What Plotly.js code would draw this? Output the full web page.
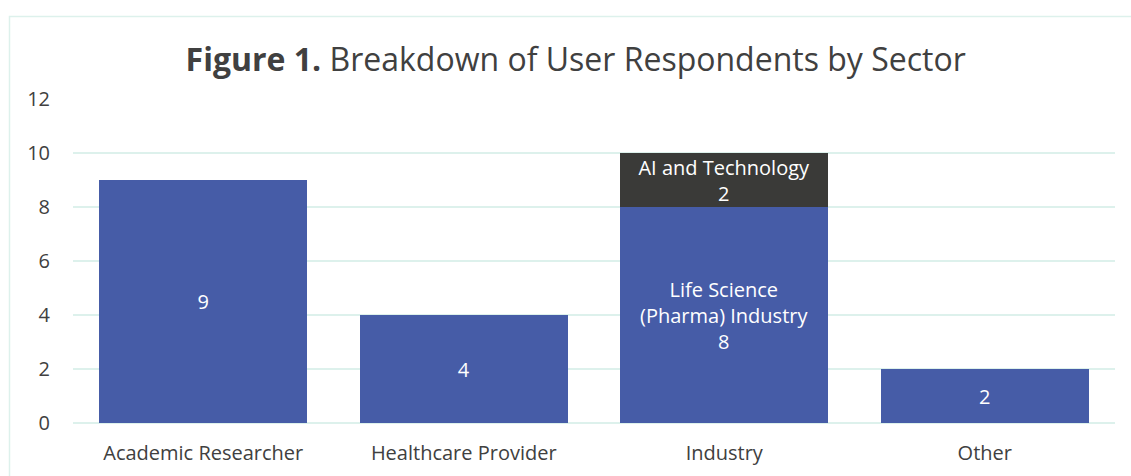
<!DOCTYPE html>
<html>
<head>
<meta charset="utf-8">
<script src="https://cdn.plot.ly/plotly-3.0.1.min.js"></script>
<style>html,body{margin:0;padding:0;background:#fff;}#chart{width:1131px;height:476px;}</style>
</head>
<body>
<div id="chart"></div>
<script>
const categories = ["Academic Researcher", "Healthcare Provider", "Industry", "Other"];
const primaryValues = [9, 4, 8, 2];
const primaryLabels = ["9", "4", "Life Science<br>(Pharma) Industry<br>8", "2"];
const techValues = [null, null, 2, null];
const techLabels = ["", "", "AI and Technology<br>2", ""];
const yTicks = [0, 2, 4, 6, 8, 10, 12];

const FONT = "Open Sans, Noto Sans, sans-serif";

const traces = [
  {
    type: "bar", x: categories, y: primaryValues, text: primaryLabels,
    textposition: "inside", insidetextanchor: "middle", textangle: 0,
    texttemplate: "%{text}", hoverinfo: "x+y",
    marker: {color: "#465ca7", line: {width: 0}},
    textfont: {family: FONT, size: 20, color: "#ffffff"},
    constraintext: "none", showlegend: false
  },
  {
    type: "bar", x: categories, y: techValues, text: techLabels,
    textposition: "inside", insidetextanchor: "middle", textangle: 0,
    texttemplate: "%{text}", hoverinfo: "x+y",
    marker: {color: "#3a3a38", line: {width: 0}},
    textfont: {family: FONT, size: 20, color: "#ffffff"},
    constraintext: "none", showlegend: false
  }
];

const layout = {
  width: 1131, height: 476,
  margin: {l: 73, r: 16, t: 99, b: 53},
  paper_bgcolor: "#ffffff", plot_bgcolor: "#ffffff",
  barmode: "stack", bargap: 0.2,
  title: {
    text: "<b>Figure 1.</b> Breakdown of User Respondents by Sector",
    font: {family: FONT, size: 32, color: "#404040"},
    x: 0.509, xanchor: "center", y: 0.875, yanchor: "middle"
  },
  xaxis: {
    type: "category", showgrid: false, zeroline: false, showline: false, ticks: "",
    tickfont: {family: FONT, size: 20, color: "#404040"}, ticklabelstandoff: 16
  },
  yaxis: {
    range: [0, 12], tickvals: yTicks, ticktext: yTicks.map(String),
    showgrid: true, gridcolor: "#ddf1ec", gridwidth: 1.5,
    zeroline: true, zerolinecolor: "#ddf1ec", zerolinewidth: 1.5,
    showline: false, ticks: "",
    tickfont: {family: FONT, size: 20, color: "#404040"}, ticklabelstandoff: 22
  },
  shapes: [{
    type: "rect", xref: "paper", yref: "paper",
    x0: (9.5 - 73) / 1042, x1: (1140 - 73) / 1042,
    y0: (423 - 490) / 324, y1: (423 - 16.5) / 324,
    line: {color: "#ddf1ec", width: 1.5}, fillcolor: "rgba(0,0,0,0)", layer: "below"
  }]
};

Plotly.newPlot("chart", traces, layout, {displayModeBar: false, staticPlot: true});
</script>
</body>
</html>
